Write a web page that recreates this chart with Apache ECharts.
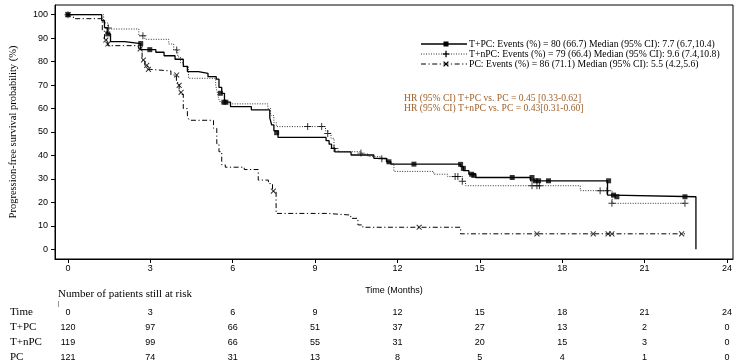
<!DOCTYPE html>
<html><head><meta charset="utf-8">
<script src="https://cdn.jsdelivr.net/npm/echarts@6/dist/echarts.min.js"></script>
<style>html,body{margin:0;padding:0;background:#fff}#c{width:740px;height:362px}</style>
</head><body><div id="c"></div>
<script>
// ---- Kaplan-Meier step data (time in months, survival %) ----
const tpcT = [0, 1.23, 1.33, 1.43, 1.55, 2.07, 2.65, 3.2, 3.5, 3.9, 4.2, 4.35, 4.75, 5.1, 5.4, 5.5, 5.6, 5.7, 5.92, 6.68, 7.35, 7.42, 7.5, 7.65, 9.4, 9.51, 9.6, 9.72, 10.31, 11.14, 11.6, 11.76, 14.3, 14.4, 14.6, 14.85, 16.85, 19.65, 19.85, 22.87];
const tpcS = [100, 97.5, 94.5, 91.8, 88.5, 87.7, 85.1, 84, 82.5, 81, 78, 75.7, 75, 73.6, 72.5, 69, 66.5, 62.7, 60.8, 59.4, 56, 53, 50.5, 47.7, 46.3, 44.8, 43, 41.5, 40.2, 38.8, 37.3, 36.3, 35.2, 33.5, 32, 30.6, 29.2, 23.1, 22.4, 0];
const tnpcT = [0, 1.3, 1.45, 2.58, 2.8, 3.67, 3.85, 4.0, 4.1, 4.21, 4.39, 5.38, 5.45, 5.52, 5.6, 7.28, 7.38, 7.5, 7.59, 9.38, 9.47, 9.58, 9.69, 9.84, 10.67, 10.93, 11.4, 11.65, 11.87, 13.32, 13.83, 14.37, 14.48, 18.66, 19.82, 22.47];
const tnpcS = [100, 96.5, 93.9, 91, 89.5, 87.5, 85, 82, 79.5, 77.8, 72.9, 70, 66, 63, 62, 60, 57, 54, 52.3, 50.5, 49.4, 47.3, 43, 41.6, 40.6, 39.5, 38.5, 36.6, 33.2, 32, 31, 29, 27.1, 25, 19.6, 19.6];
const pcT = [0, 0.2, 1.25, 1.33, 1.45, 2.58, 2.7, 2.8, 2.9, 3.0, 3.75, 3.95, 4.05, 4.12, 4.2, 4.35, 4.42, 5.3, 5.42, 5.5, 5.6, 5.73, 6.42, 6.93, 7.3, 7.45, 7.58, 9.44, 10.3, 10.56, 10.74, 14.3, 22.47];
const pcS = [100, 98.3, 93, 89.2, 86.8, 85.4, 80.7, 78.4, 76.7, 76.0, 74.3, 71, 68, 66, 60, 56.5, 55, 51.6, 45, 41.6, 36, 35, 34, 29.5, 28, 24.8, 15.3, 14.6, 13.2, 10.4, 9.4, 6.6, 6.6];

// ---- censor marks ----
const tpcCensT = [0, 1.45, 2.65, 2.98, 5.55, 5.68, 5.75, 7.6, 11.69, 12.6, 14.3, 14.4, 14.7, 14.78, 16.18, 16.9, 17.02, 17.14, 17.5, 19.69, 19.87, 19.99, 22.47];
const tpcCensS = [100, 91.8, 87.7, 85.1, 66.5, 62.7, 62.7, 49.7, 37.3, 36.3, 36.2, 34.5, 32, 31.5, 30.6, 30.6, 29.2, 29.2, 29.2, 29.2, 23.1, 22.4, 22.4];
const tnpcCensT = [0, 1.47, 2.73, 3.96, 8.73, 9.24, 9.46, 9.69, 10.67, 11.43, 14.1, 14.2, 14.36, 16.9, 17.08, 17.17, 19.38, 19.63, 19.81, 22.47];
const tnpcCensS = [100, 94.3, 91, 85, 52.3, 52.3, 49.4, 43, 41, 38.6, 31, 31, 29, 27.1, 27.1, 27.1, 25, 25, 19.6, 19.6];
const pcCensT = [0, 1.38, 1.45, 2.63, 2.75, 2.87, 2.93, 3.96, 4.05, 4.12, 7.48, 12.79, 17.08, 19.13, 19.67, 19.81, 22.35];
const pcCensS = [100, 89.2, 87.5, 85.4, 80.7, 78.4, 76.7, 74.3, 69.9, 66.9, 24.8, 9.4, 6.6, 6.6, 6.6, 6.6, 6.6];

// ---- ticks, legend, table ----
const xTicks = [0, 3, 6, 9, 12, 15, 18, 21, 24];
const yTicks = [0, 10, 20, 30, 40, 50, 60, 70, 80, 90, 100];
const seriesNames = ['T+PC', 'T+nPC', 'PC'];
const legendTexts = [
  'T+PC: Events (%) = 80 (66.7) Median (95% CI): 7.7 (6.7,10.4)',
  'T+nPC: Events (%) = 79 (66.4) Median (95% CI): 9.6 (7.4,10.8)',
  'PC: Events (%) = 86 (71.1) Median (95% CI): 5.5 (4.2,5.6)'
];
const hrTexts = [
  'HR (95% CI) T+PC vs. PC = 0.45 [0.33-0.62]',
  'HR (95% CI) T+nPC vs. PC = 0.43[0.31-0.60]'
];
const riskTitle = 'Number of patients still at risk';
const riskTimes = [0, 3, 6, 9, 12, 15, 18, 21, 24];
const riskTPC = [120, 97, 66, 51, 37, 27, 13, 2, 0];
const riskTnPC = [119, 99, 66, 55, 31, 20, 15, 3, 0];
const riskPC = [121, 74, 31, 13, 8, 5, 4, 1, 0];

const pts = (t, s) => t.map((v, i) => [v, s[i]]);
const plusPath = 'path://M4.3,0h1.4v4.3h4.3v1.4h-4.3v4.3h-1.4v-4.3h-4.3v-1.4h4.3z';
const SERIF = 'Liberation Serif';
const SANS = 'Liberation Sans';

const chart = echarts.init(document.getElementById('c'), null, {renderer: 'canvas'});
chart.setOption({
  animation: false,
  backgroundColor: '#fff',
  grid: {left: 53, right: 7, top: 5, bottom: 103, show: true, borderColor: '#000', borderWidth: 1, backgroundColor: 'transparent'},
  xAxis: {
    type: 'value', min: -0.472, max: 24.22,
    name: 'Time (Months)', nameLocation: 'middle', nameGap: 27,
    nameTextStyle: {fontFamily: SANS, fontSize: 9, color: '#000'},
    axisLine: {show: true, onZero: false, lineStyle: {color: '#000', width: 1}},
    axisTick: {show: true, length: 4, customValues: xTicks, lineStyle: {color: '#000'}},
    axisLabel: {customValues: xTicks, margin: 5, fontFamily: SANS, fontSize: 9, color: '#000'},
    splitLine: {show: false}
  },
  yAxis: {
    type: 'value', min: -4.13, max: 104.13,
    name: 'Progression-free survival probability (%)', nameLocation: 'middle', nameGap: 36,
    nameTextStyle: {fontFamily: SERIF, fontSize: 10.5, color: '#000'},
    axisLine: {show: true, onZero: false, lineStyle: {color: '#000', width: 1}},
    axisTick: {show: true, length: 4, customValues: yTicks, lineStyle: {color: '#000'}},
    axisLabel: {customValues: yTicks, margin: 7, fontFamily: SANS, fontSize: 9, color: '#000'},
    splitLine: {show: false}
  },
  series: [
    {type: 'line', name: seriesNames[0], data: pts(tpcT, tpcS), step: 'end', symbol: 'none', lineStyle: {color: '#000', width: 1.3}, z: 4},
    {type: 'line', name: seriesNames[1], data: pts(tnpcT, tnpcS), step: 'end', symbol: 'none', lineStyle: {color: '#333', width: 1, type: [1, 1.5]}, z: 3},
    {type: 'line', name: seriesNames[2], data: pts(pcT, pcS), step: 'end', symbol: 'none', lineStyle: {color: '#000', width: 1, type: [5, 2.5, 1.2, 2.5]}, z: 3},
    {type: 'scatter', data: pts(tpcCensT, tpcCensS), symbol: 'rect', symbolSize: 5, itemStyle: {color: '#000'}, z: 5},
    {type: 'scatter', data: pts(tnpcCensT, tnpcCensS), symbol: plusPath, symbolSize: 7, itemStyle: {color: '#000'}, z: 5},
    {type: 'scatter', data: pts(pcCensT, pcCensS), symbol: plusPath, symbolRotate: 45, symbolSize: 7, itemStyle: {color: '#000'}, z: 5}
  ]
});

// ---- graphic overlay: legend, HR text, risk table ----
const g = [];
const legRows = [44, 54, 64];
const legDash = [null, [1, 1.5], [5, 2.5, 1.2, 2.5]];
legRows.forEach((y, i) => {
  g.push({type: 'line', shape: {x1: 421, y1: y, x2: 467, y2: y}, style: {stroke: i === 1 ? '#333' : '#000', lineWidth: i === 0 ? 1.3 : 1, lineDash: legDash[i]}});
  if (i === 0) g.push({type: 'rect', shape: {x: 443.5, y: y - 2.5, width: 5, height: 5}, style: {fill: '#000'}});
  else {
    const r = 3.2;
    const rot = i === 2;
    g.push({type: 'line', shape: rot ? {x1: 446 - r * 0.75, y1: y - r * 0.75, x2: 446 + r * 0.75, y2: y + r * 0.75} : {x1: 446 - r, y1: y, x2: 446 + r, y2: y}, style: {stroke: '#000', lineWidth: 1.3}});
    g.push({type: 'line', shape: rot ? {x1: 446 - r * 0.75, y1: y + r * 0.75, x2: 446 + r * 0.75, y2: y - r * 0.75} : {x1: 446, y1: y - r, x2: 446, y2: y + r}, style: {stroke: '#000', lineWidth: 1.3}});
  }
  g.push({type: 'text', x: 469, y: y, style: {text: legendTexts[i], fontFamily: SERIF, fontSize: 9.7, fill: '#000', verticalAlign: 'middle', align: 'left'}});
});
hrTexts.forEach((t, i) => {
  g.push({type: 'text', x: 404, y: 98 + i * 10.5, style: {text: t, fontFamily: SERIF, fontSize: 9.6, fill: '#a0612a', verticalAlign: 'middle', align: 'left'}});
});
g.push({type: 'text', x: 58, y: 294, style: {text: riskTitle, fontFamily: SERIF, fontSize: 11, fill: '#000', verticalAlign: 'middle', align: 'left'}});
g.push({type: 'line', shape: {x1: 58.5, y1: 301, x2: 58.5, y2: 307}, style: {stroke: '#999', lineWidth: 1}});
const rowLabels = ['Time', 'T+PC', 'T+nPC', 'PC'];
const rowVals = [riskTimes, riskTPC, riskTnPC, riskPC];
const rowY = [312, 327, 342, 357];
rowLabels.forEach((lab, r) => {
  g.push({type: 'text', x: 10, y: rowY[r], style: {text: lab, fontFamily: SERIF, fontSize: 11, fill: '#000', verticalAlign: 'middle', align: 'left'}});
  rowVals[r].forEach((v, k) => {
    const px = chart.convertToPixel({gridIndex: 0}, [riskTimes[k], 0])[0];
    g.push({type: 'text', x: px, y: rowY[r] + 1, style: {text: String(v), fontFamily: SANS, fontSize: 9, fill: '#000', verticalAlign: 'middle', align: 'center'}});
  });
});
chart.setOption({graphic: g});
</script>
</body></html>
